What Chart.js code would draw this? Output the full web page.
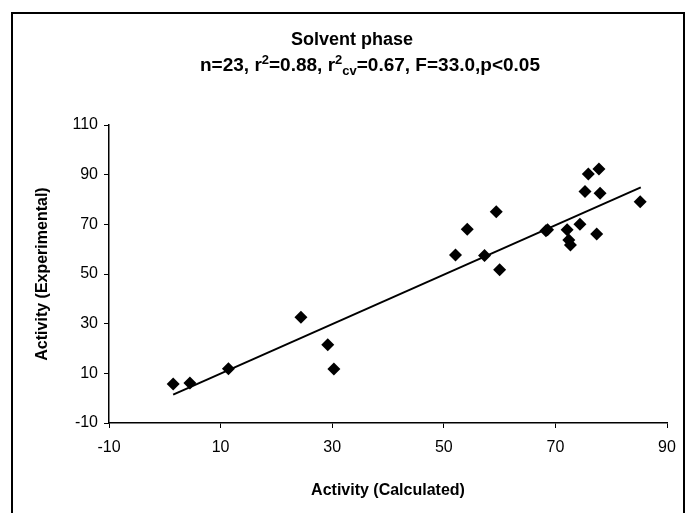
<!DOCTYPE html>
<html>
<head>
<meta charset="utf-8">
<script src="https://cdn.jsdelivr.net/npm/chart.js@4.4.1/dist/chart.umd.min.js"></script>
<style>
  html, body { margin: 0; padding: 0; background: #fff; }
  #wrap { width: 686px; height: 513px; }
</style>
</head>
<body>
<div id="wrap"><canvas id="myChart" width="686" height="513"></canvas></div>
<script>
// valores
const calculada = [1.5, 4.5, 11.4, 24.4, 29.2, 30.3, 52.1, 54.2, 59.4, 57.3, 60.0, 68.6, 68.3, 72.1, 72.4, 72.7, 74.4, 77.4, 75.3, 78.0, 75.9, 77.8, 85.2];
const experimental = [5.7, 6.1, 11.8, 32.6, 21.5, 11.7, 57.7, 68.0, 75.1, 57.4, 51.7, 67.8, 67.4, 67.8, 63.7, 61.7, 70.0, 66.1, 83.2, 82.5, 90.3, 92.3, 79.1];

// linea de tendencia (extremos)
const lineaX = [1.5, 85.3];
const lineaY = [1.4, 84.9];

const ticksX = [-10, 10, 30, 50, 70, 90];
const ticksY = [-10, 10, 30, 50, 70, 90, 110];

const titulo = 'Solvent phase';
// partes del subtitulo: [texto, tipo]
const subtitulo = [
  ['n=23, r', ''], ['2', 'sup'], ['=0.88, r', ''], ['2', 'sup'], ['cv', 'sub'], ['=0.67, F=33.0,p<0.05', '']
];

const fuente = '"Liberation Sans", Arial, sans-serif';

const puntos = calculada.map((x, i) => ({ x: x, y: experimental[i] }));
const linea = lineaX.map((x, i) => ({ x: x, y: lineaY[i] }));

// marco y titulo
const decor = {
  id: 'decor',
  beforeDraw(chart) {
    const ctx = chart.ctx;
    ctx.save();
    ctx.fillStyle = '#fff';
    ctx.fillRect(0, 0, chart.width, chart.height);
    ctx.strokeStyle = '#000';
    ctx.lineWidth = 2;
    ctx.beginPath();
    ctx.moveTo(12, chart.height);
    ctx.lineTo(12, 13);
    ctx.lineTo(684, 13);
    ctx.lineTo(684, chart.height);
    ctx.stroke();
    ctx.restore();
  },
  afterDraw(chart) {
    const ctx = chart.ctx;
    ctx.save();
    ctx.fillStyle = '#000';
    ctx.textBaseline = 'middle';
    ctx.textAlign = 'center';
    ctx.font = 'bold 18px ' + fuente;
    ctx.fillText(titulo, 352, 40);

    // segunda linea con super y subindices
    ctx.textAlign = 'left';
    ctx.textBaseline = 'alphabetic';
    const big = 'bold 19px ' + fuente;
    const small = 'bold 13px ' + fuente;
    let total = 0;
    subtitulo.forEach(([t, tipo]) => {
      ctx.font = tipo ? small : big;
      total += ctx.measureText(t).width;
    });
    let x = 370 - total / 2;
    const base = 71;
    subtitulo.forEach(([t, tipo]) => {
      ctx.font = tipo ? small : big;
      let y = base;
      if (tipo === 'sup') y = base - 7;
      if (tipo === 'sub') y = base + 4;
      ctx.fillText(t, x, y);
      x += ctx.measureText(t).width;
    });
    ctx.restore();
  }
};

const ctx = document.getElementById('myChart').getContext('2d');

const myChart = new Chart(ctx, {
  type: 'scatter',
  data: {
    datasets: [{
      label: 'puntos',
      data: puntos,
      pointStyle: 'rectRot',
      pointRadius: 6.5,
      pointBackgroundColor: '#000',
      pointBorderColor: '#000',
      pointBorderWidth: 0,
      showLine: false
    }, {
      label: 'linea',
      data: linea,
      showLine: true,
      borderColor: '#000',
      borderWidth: 2,
      pointRadius: 0,
      fill: false
    }]
  },
  options: {
    responsive: false,
    animation: false,
    layout: {
      padding: { left: 14, right: 19, top: 125, bottom: 5 }
    },
    plugins: {
      legend: { display: false },
      tooltip: { enabled: false }
    },
    scales: {
      x: {
        type: 'linear',
        min: -10,
        max: 90,
        afterBuildTicks: (s) => { s.ticks = ticksX.map(v => ({ value: v })); },
        afterFit: (s) => { s.height = 85; },
        grid: { display: true, drawOnChartArea: false, drawTicks: true, tickLength: 5, color: '#000' },
        border: { display: true, color: '#000', width: 1.5 },
        ticks: { color: '#000', font: { family: fuente, size: 16 }, padding: 10, maxRotation: 0 },
        title: {
          display: true,
          text: 'Activity (Calculated)',
          color: '#000',
          font: { family: fuente, size: 16, weight: 'bold' },
          padding: { top: 0, bottom: 8 }
        }
      },
      y: {
        type: 'linear',
        min: -10,
        max: 110,
        afterBuildTicks: (s) => { s.ticks = ticksY.map(v => ({ value: v })); },
        afterFit: (s) => { s.width = 95; },
        grid: { display: true, drawOnChartArea: false, drawTicks: true, tickLength: 5, color: '#000' },
        border: { display: true, color: '#000', width: 1.5 },
        ticks: { color: '#000', font: { family: fuente, size: 16 }, padding: 6 },
        title: {
          display: true,
          text: 'Activity (Experimental)',
          color: '#000',
          font: { family: fuente, size: 16, weight: 'bold' },
          padding: { top: 19, bottom: 0 }
        }
      }
    }
  },
  plugins: [decor]
});
</script>
</body>
</html>
